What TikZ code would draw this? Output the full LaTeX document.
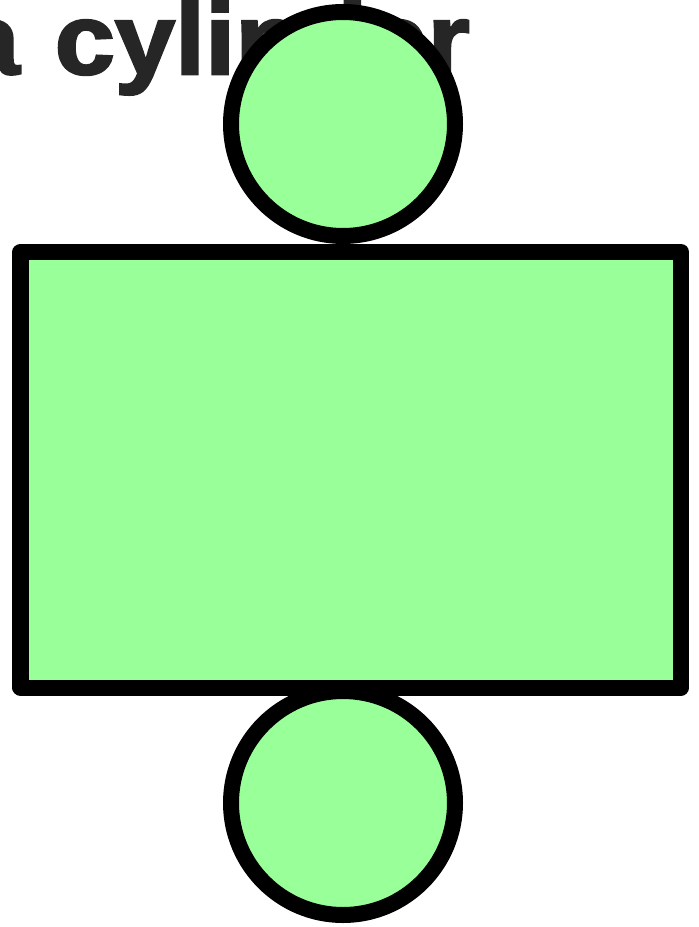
\documentclass[tikz,border=0pt]{standalone}
\usepackage{fontspec}
\newfontfamily\headfont[FakeStretch=1.08,FakeBold=2.5]{Liberation Sans}
\usepackage{tikz}
\usetikzlibrary{positioning}
\definecolor{netGreen}{RGB}{153,255,153}
\definecolor{headGray}{RGB}{38,38,38}
\tikzset{
  face/.style={draw=black,fill=netGreen,line width=0.32cm,
    line join=round,inner sep=0pt},
  heading/.style={font=\headfont\bfseries\fontsize{57}{60}\selectfont,
    text=headGray,inner sep=0pt,anchor=base east}
}

\begin{document}
\begin{tikzpicture}
  \useasboundingbox (0,0) rectangle (13.98,-18.54);
  \clip (0,0) rectangle (13.98,-18.54);
  \node[heading] (title) at (9.4,-1.48) {a\hspace{0.35em}cylinder};
  \node[face, rectangle, minimum width=13.21cm, minimum height=8.71cm]
    (side) at (7.015,-9.395) {};
  \node[face, circle, minimum size=4.48cm, above=0pt of side,
    xshift=-0.155cm] (lid) {};
  \node[face, circle, minimum size=4.48cm, below=-0.25cm of side,
    xshift=-0.155cm] (base) {};
\end{tikzpicture}
\end{document}
